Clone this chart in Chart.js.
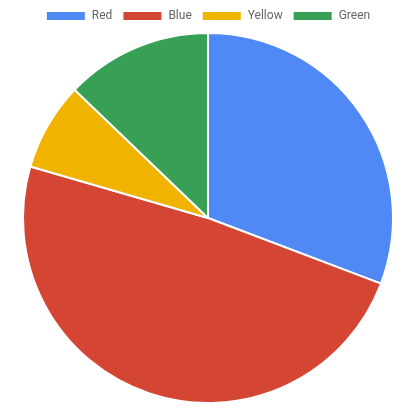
<!DOCTYPE html>
<html>
<head>
<meta charset="utf-8">
<script src="https://cdn.jsdelivr.net/npm/chart.js@4"></script>
<style>
  html, body { margin: 0; padding: 0; background: #fff; }
  #wrap { width: 416px; height: 416px; }
</style>
</head>
<body>
<div id="wrap"><canvas id="chartPie"></canvas></div>
<script>
const labels = ["Red", "Blue", "Yellow", "Green"];
const values = [12, 19, 3, 5];
const colors = ["#5089f5", "#d44533", "#efb300", "#37a055"];

document.addEventListener("DOMContentLoaded", () => {
  const ctx = document.getElementById("chartPie");
  new Chart(ctx, {
    type: "pie",
    data: {
      labels: labels,
      datasets: [{
        data: values,
        backgroundColor: colors,
        borderColor: "#fff",
        borderWidth: 2
      }]
    },
    options: {
      responsive: true,
      maintainAspectRatio: false,
      animation: false,
      layout: { padding: { bottom: 12 } },
      plugins: {
        legend: {
          labels: {
            boxWidth: 40,
            boxHeight: 10,
            color: "#666",
            font: { family: "Roboto", size: 12 }
          }
        }
      }
    }
  });
});
</script>
</body>
</html>
